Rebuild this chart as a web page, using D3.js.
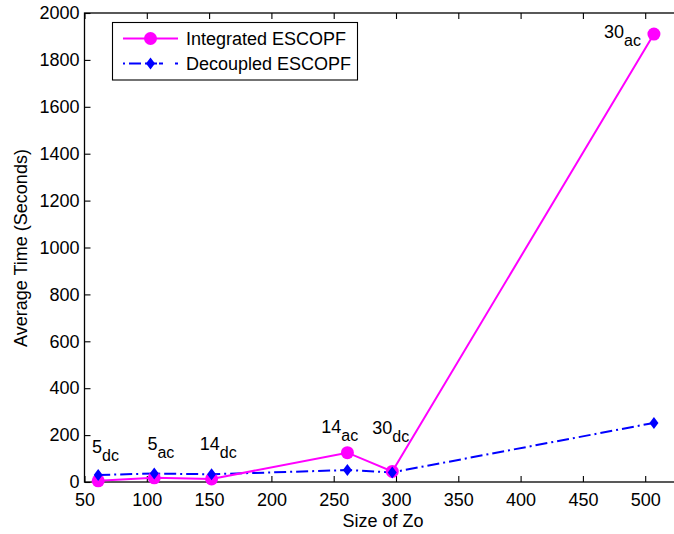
<!DOCTYPE html>
<html><head><meta charset="utf-8">
<script src="https://cdn.jsdelivr.net/npm/d3@7"></script>
<style>body{margin:0;background:#fff}svg{display:block}text{font-family:"Liberation Sans",Arial,sans-serif;fill:#000}</style>
</head><body><svg id="c" width="674" height="534"></svg>
<script>
const sizes = [61, 106, 152, 261, 297, 507];
const integrated = [5, 18, 13, 125, 45, 1910];
const decoupled = [30, 36, 33, 51, 41, 252];
const pointLabels = ["5", "5", "14", "14", "30", "30"];
const pointSubs = ["dc", "ac", "dc", "ac", "dc", "ac"];
const labelX = [56, 100.5, 142.5, 240, 281, 467];
const labelY = [122, 135, 135, 208, 205, 1893];
const xTicks = [50, 100, 150, 200, 250, 300, 350, 400, 450, 500];
const yTicks = [0, 200, 400, 600, 800, 1000, 1200, 1400, 1600, 1800, 2000];
const seriesNames = ["Integrated ESCOPF", "Decoupled ESCOPF"];

const svg = d3.select("#c");
const L = 84.5, T = 13, B = 482;
const x = d3.scaleLinear().domain([50, 550]).range([L, L + 500 * 1.246]);
const y = d3.scaleLinear().domain([0, 2000]).range([B, T]);
const R = x(550);

// frame
svg.append("rect").attr("x", L).attr("y", T).attr("width", R - L).attr("height", B - T)
  .attr("fill", "none").attr("stroke", "#000").attr("stroke-width", 1.3);

const fs = 18;
const xb = svg.append("g").attr("transform", `translate(0,${B})`)
  .call(d3.axisBottom(x).tickValues(xTicks).tickSize(-6).tickPadding(11).tickFormat(d3.format("d")));
const xt = svg.append("g").attr("transform", `translate(0,${T})`)
  .call(d3.axisTop(x).tickValues(xTicks).tickSize(-6).tickFormat(""));
const yl = svg.append("g").attr("transform", `translate(${L},0)`)
  .call(d3.axisLeft(y).tickValues(yTicks).tickSize(-6).tickPadding(5).tickFormat(d3.format("d")));
[xb, xt, yl].forEach(g => {
  g.select(".domain").remove();
  g.selectAll(".tick line").attr("stroke", "#000").attr("stroke-width", 1.1);
  g.selectAll("text").attr("font-size", fs).attr("font-family", "Liberation Sans, Arial, sans-serif").attr("fill", "#000");
});

// titles
svg.append("text").attr("x", 383).attr("y", 527).attr("text-anchor", "middle").attr("font-size", fs).text("Size of Zo");
svg.append("text").attr("transform", "translate(27,248) rotate(-90)").attr("text-anchor", "middle").attr("font-size", fs).text("Average Time (Seconds)");

const idx = d3.range(sizes.length);
const line = d3.line().x(i => x(sizes[i]));

// decoupled
svg.append("path").attr("d", line.y(i => y(decoupled[i]))(idx))
  .attr("fill", "none").attr("stroke", "#0000ff").attr("stroke-width", 2).attr("stroke-dasharray", "12,4,2,4");
// integrated
svg.append("path").attr("d", d3.line().x(i => x(sizes[i])).y(i => y(integrated[i]))(idx))
  .attr("fill", "none").attr("stroke", "#ff00ff").attr("stroke-width", 2);

const diamond = (cx, cy, w, h) => `M${cx},${cy - h}L${cx + w},${cy}L${cx},${cy + h}L${cx - w},${cy}Z`;
svg.selectAll(".ci").data(idx).enter().append("circle")
  .attr("cx", i => x(sizes[i])).attr("cy", i => y(integrated[i])).attr("r", 6.5).attr("fill", "#ff00ff");
svg.selectAll(".di").data(idx).enter().append("path")
  .attr("d", i => diamond(x(sizes[i]), y(decoupled[i]), 4.5, 6)).attr("fill", "#0000ff");

// point labels
idx.forEach(i => {
  const t = svg.append("text").attr("x", x(labelX[i])).attr("y", y(labelY[i])).attr("font-size", fs);
  t.append("tspan").text(pointLabels[i]);
  t.append("tspan").attr("dy", 8).attr("font-size", 16).text(pointSubs[i]);
});

// legend
const lg = svg.append("g");
lg.append("rect").attr("x", 112.5).attr("y", 22.5).attr("width", 245).attr("height", 57.5)
  .attr("fill", "#fff").attr("stroke", "#000").attr("stroke-width", 1.1);
lg.append("line").attr("x1", 123).attr("x2", 178).attr("y1", 38.5).attr("y2", 38.5).attr("stroke", "#ff00ff").attr("stroke-width", 2);
lg.append("circle").attr("cx", 150.5).attr("cy", 38.5).attr("r", 6.5).attr("fill", "#ff00ff");
lg.append("line").attr("x1", 123).attr("x2", 178).attr("y1", 63.5).attr("y2", 63.5).attr("stroke", "#0000ff").attr("stroke-width", 2).attr("stroke-dasharray", "2,4,12,4,12");
lg.append("path").attr("d", diamond(150.5, 63.5, 4.5, 6)).attr("fill", "#0000ff");
lg.append("text").attr("x", 186).attr("y", 45).attr("font-size", fs).text(seriesNames[0]);
lg.append("text").attr("x", 186).attr("y", 70).attr("font-size", fs).text(seriesNames[1]);
</script></body></html>
